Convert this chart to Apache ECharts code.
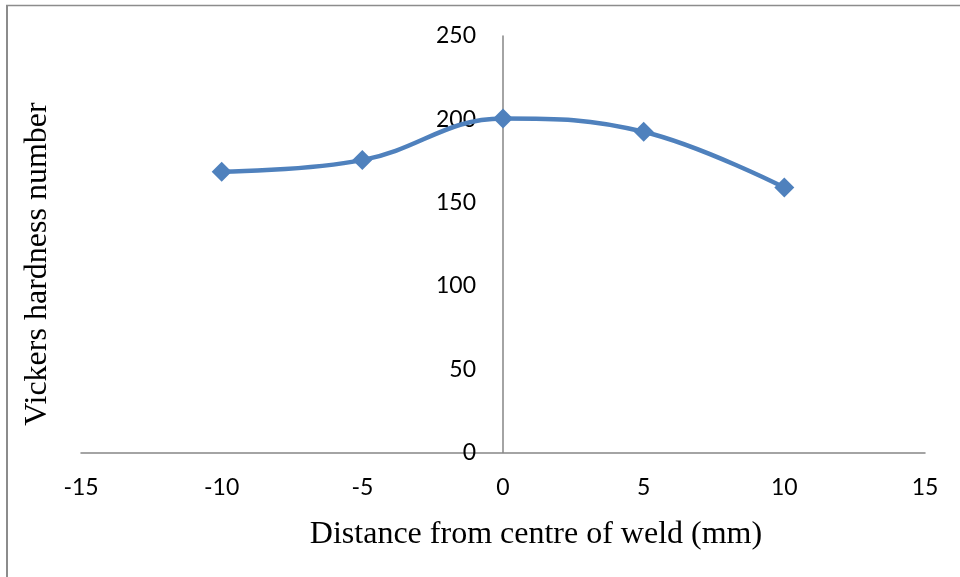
<!DOCTYPE html>
<html>
<head>
<meta charset="utf-8">
<script src="https://cdn.jsdelivr.net/npm/echarts@6/dist/echarts.min.js"></script>
<style>html,body{margin:0;padding:0;background:#fff}#chart{width:960px;height:577px}</style>
</head>
<body>
<div id="chart"></div>
<script>
const distances = [-10, -5, 0, 5, 10];
const hardness = [168.5, 175.5, 200.5, 192.5, 159];
const xTicks = { min: -15, max: 15, interval: 5 };
const yTicks = { min: 0, max: 250, interval: 50 };
const xTitle = 'Distance from centre of weld (mm)';
const yTitle = 'Vickers hardness number';

const gridLeft = 81, gridRight = 35;
const plotWidth = 960 - gridLeft - gridRight;
// shift the y axis (line + labels) to where x = 0 lies
const yAxisShift = plotWidth * (0 - xTicks.min) / (xTicks.max - xTicks.min);

const chart = echarts.init(document.getElementById('chart'));
const labelFont = { fontFamily: 'Lato, "Open Sans", sans-serif', fontSize: 23, color: '#000' };
const lineStyle = { color: '#868686', width: 1.5 };
chart.setOption({
  animation: false,
  grid: { left: gridLeft, right: gridRight, top: 36, bottom: 124.5 },
  xAxis: {
    type: 'value', min: xTicks.min, max: xTicks.max, interval: xTicks.interval,
    axisLine: { onZero: true, lineStyle: lineStyle }, axisTick: { show: false }, splitLine: { show: false },
    axisLabel: Object.assign({ margin: 24 }, labelFont)
  },
  yAxis: {
    type: 'value', min: yTicks.min, max: yTicks.max, interval: yTicks.interval,
    offset: -yAxisShift,
    axisLine: { onZero: false, lineStyle: lineStyle }, axisTick: { show: false }, splitLine: { show: false },
    axisLabel: Object.assign({ margin: 27 }, labelFont)
  },
  series: [{
    type: 'line',
    data: distances.map((d, i) => [d, hardness[i]]),
    smooth: 0.4,
    symbol: 'diamond', symbolSize: 20,
    lineStyle: { color: '#4F81BD', width: 4.5 },
    itemStyle: { color: '#4F81BD' }
  }],
  graphic: [
    { type: 'line', shape: { x1: 6, y1: 5.5, x2: 960, y2: 5.5 }, style: { stroke: '#8c8c8c', lineWidth: 1.5 } },
    { type: 'line', shape: { x1: 7, y1: 5, x2: 7, y2: 577 }, style: { stroke: '#8c8c8c', lineWidth: 2 } },
    { type: 'text', x: 536, y: 535, style: { text: xTitle, fontFamily: '"Liberation Serif", "Times New Roman", serif', fontSize: 32, fill: '#000', textAlign: 'center', textVerticalAlign: 'middle' } },
    { type: 'text', x: 38, y: 264, rotation: Math.PI / 2, style: { text: yTitle, fontFamily: '"Liberation Serif", "Times New Roman", serif', fontSize: 32, fill: '#000', textAlign: 'center', textVerticalAlign: 'middle' } }
  ]
});
</script>
</body>
</html>
